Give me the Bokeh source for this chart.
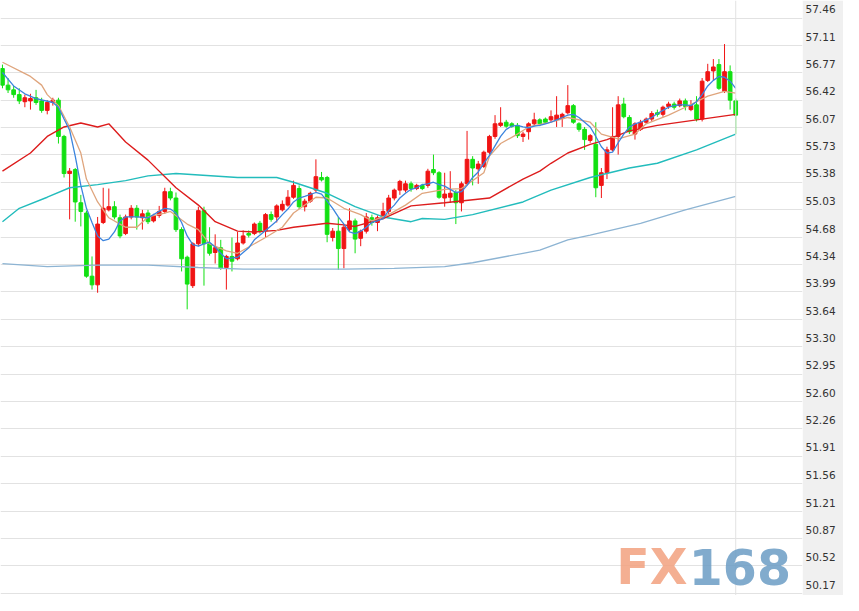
from bokeh.plotting import figure
from bokeh.models import (Range1d, LinearAxis, FixedTicker, NumeralTickFormatter,
                          Grid, Span, Label, ColumnDataSource)
from bokeh.embed import file_html
from bokeh.resources import INLINE

# ---------------- data ----------------
opens = [56.82, 56.61, 56.55, 56.49, 56.40, 56.41, 56.45, 56.41, 56.29, 56.39,
         56.42, 55.96, 55.49, 55.54, 55.12, 54.99, 54.19, 54.08, 54.87, 55.03,
         55.07, 54.93, 54.73, 54.94, 55.05, 54.93, 54.99, 54.89, 54.96, 55.01,
         55.26, 55.18, 54.78, 54.43, 54.07, 54.60, 55.02, 54.60, 54.49, 54.55,
         54.30, 54.44, 54.41, 54.61, 54.73, 54.73, 54.86, 54.77, 54.97, 54.94,
         55.03, 55.09, 55.19, 55.30, 55.07, 55.14, 55.28, 55.44, 55.44, 54.68,
         54.76, 54.54, 54.78, 54.89, 54.67, 54.76, 54.93, 54.87, 54.93, 55.01,
         55.18, 55.28, 55.28, 55.36, 55.30, 55.34, 55.34, 55.54, 55.50, 55.18,
         55.19, 55.25, 55.12, 55.36, 55.67, 55.55, 55.58, 55.76, 55.96, 56.10,
         56.14, 56.12, 56.10, 55.96, 56.02, 56.12, 56.17, 56.18, 56.17, 56.17,
         56.19, 56.26, 56.35, 56.12, 56.05, 55.91, 55.86, 55.34, 55.50, 55.79,
         55.96, 56.37, 56.20, 55.99, 56.05, 56.14, 56.18, 56.26, 56.24, 56.34,
         56.37, 56.35, 56.41, 56.30, 56.36, 56.18, 56.67, 56.79, 56.87, 56.53,
         56.78, 56.41]
highs = [56.87, 56.70, 56.60, 56.57, 56.49, 56.50, 56.55, 56.45, 56.42, 56.45,
         56.45, 55.98, 55.56, 55.56, 55.22, 55.02, 54.44, 54.94, 55.31, 55.30,
         55.14, 54.97, 54.97, 55.09, 55.09, 55.03, 55.03, 54.98, 55.08, 55.31,
         55.31, 55.25, 54.81, 54.45, 54.62, 55.07, 55.07, 54.81, 54.72, 54.65,
         54.46, 54.68, 54.75, 54.77, 54.77, 54.87, 54.89, 54.99, 55.01, 55.10,
         55.15, 55.28, 55.40, 55.34, 55.17, 55.26, 55.67, 55.51, 55.46, 54.80,
         54.94, 54.85, 55.05, 54.92, 54.78, 54.99, 54.97, 54.96, 55.12, 55.22,
         55.30, 55.41, 55.40, 55.39, 55.36, 55.36, 55.55, 55.73, 55.52, 55.50,
         55.52, 55.28, 55.39, 56.03, 55.71, 55.65, 55.78, 55.98, 56.23, 56.33,
         56.17, 56.14, 56.13, 56.02, 56.14, 56.26, 56.19, 56.20, 56.29, 56.47,
         56.26, 56.61, 56.37, 56.14, 56.08, 55.99, 56.14, 55.56, 55.83, 56.33,
         56.47, 56.45, 56.23, 56.14, 56.17, 56.20, 56.28, 56.30, 56.35, 56.40,
         56.40, 56.44, 56.44, 56.42, 56.47, 56.70, 56.88, 56.94, 56.94, 57.13,
         56.86, 56.44]
lows = [56.57, 56.51, 56.45, 56.37, 56.33, 56.30, 56.36, 56.26, 56.24, 56.35,
        55.87, 55.44, 54.91, 54.88, 54.82, 54.17, 54.02, 53.98, 54.85, 55.01,
        54.91, 54.67, 54.71, 54.91, 54.78, 54.78, 54.85, 54.87, 54.93, 54.98,
        55.15, 54.75, 54.25, 53.77, 54.04, 54.57, 54.07, 54.45, 54.35, 54.27,
        54.02, 54.25, 54.39, 54.59, 54.68, 54.71, 54.73, 54.68, 54.88, 54.87,
        55.01, 55.07, 55.17, 55.04, 55.01, 55.12, 55.25, 55.39, 54.62, 54.63,
        54.27, 54.29, 54.76, 54.48, 54.57, 54.73, 54.83, 54.76, 54.91, 54.97,
        55.15, 55.22, 55.25, 55.26, 55.28, 55.28, 55.31, 55.47, 55.17, 55.07,
        55.12, 54.85, 55.01, 55.34, 55.34, 55.36, 55.56, 55.73, 55.93, 56.08,
        56.07, 56.07, 55.94, 55.89, 55.92, 56.09, 56.09, 56.12, 56.14, 56.08,
        56.08, 56.24, 56.12, 56.02, 55.79, 55.88, 55.19, 55.18, 55.42, 55.77,
        55.73, 56.19, 55.99, 55.92, 56.03, 56.12, 56.15, 56.21, 56.21, 56.31,
        56.30, 56.33, 56.29, 56.28, 56.15, 56.15, 56.65, 56.67, 56.55, 56.51,
        56.30, 55.99]
closes = [56.61, 56.55, 56.49, 56.41, 56.45, 56.44, 56.39, 56.29, 56.39, 56.42,
          55.96, 55.49, 55.52, 55.13, 55.01, 54.19, 54.08, 54.85, 55.05, 55.07,
          54.94, 54.70, 54.94, 55.05, 54.94, 54.98, 54.88, 54.96, 55.01, 55.26,
          55.18, 54.78, 54.41, 54.09, 54.60, 55.02, 54.60, 54.48, 54.55, 54.29,
          54.44, 54.38, 54.61, 54.70, 54.71, 54.85, 54.76, 54.97, 54.91, 55.08,
          55.10, 55.19, 55.34, 55.07, 55.14, 55.24, 55.45, 55.41, 54.72, 54.76,
          54.54, 54.81, 54.89, 54.66, 54.76, 54.94, 54.87, 54.93, 55.01, 55.18,
          55.28, 55.39, 55.36, 55.30, 55.34, 55.30, 55.52, 55.50, 55.19, 55.23,
          55.24, 55.12, 55.36, 55.67, 55.56, 55.61, 55.76, 55.96, 56.12, 56.13,
          56.09, 56.09, 55.97, 55.99, 56.12, 56.17, 56.12, 56.14, 56.21, 56.23,
          56.24, 56.35, 56.14, 56.05, 55.92, 55.97, 55.31, 55.50, 55.79, 55.96,
          56.36, 56.21, 56.02, 56.12, 56.14, 56.18, 56.25, 56.24, 56.33, 56.37,
          56.33, 56.41, 56.34, 56.35, 56.18, 56.66, 56.78, 56.84, 56.57, 56.78,
          56.42, 56.23]

# moving averages (candle index, price)
ma5_x = [0, 2, 4, 6, 9, 10, 11, 12, 13, 14, 15, 16, 17, 18, 19, 20, 21, 22, 24, 26,
         28, 29, 30, 31, 32, 33, 34, 35, 36, 37, 38, 39, 40, 42, 43, 44, 45, 47, 49, 50,
         51, 52, 53, 54, 56, 57, 58, 59, 60, 61, 62, 63, 64, 65, 66, 67, 68, 69, 70, 71,
         72, 73, 74, 75, 76, 77, 78, 79, 80, 81, 82, 83, 84, 85, 86, 87, 88, 89, 90, 91,
         92, 93, 94, 95, 96, 97, 98, 99, 100, 101, 102, 103, 104, 105, 106, 107, 108, 109,
         110, 111, 112, 113, 114, 115, 116, 117, 118, 119, 120, 121, 122, 123, 124, 125,
         126, 127, 128, 129, 130, 131]
ma5_y = [56.77, 56.60, 56.50, 56.44, 56.39, 56.33, 56.18, 56.04, 55.71, 55.34,
         55.05, 54.87, 54.70, 54.64, 54.66, 54.75, 54.89, 54.94, 54.94, 54.93,
         55.01, 55.05, 55.04, 54.99, 54.87, 54.70, 54.59, 54.57, 54.60, 54.62,
         54.56, 54.48, 54.41, 54.43, 54.49, 54.55, 54.65, 54.77, 54.89, 54.97,
         55.04, 55.13, 55.18, 55.20, 55.25, 55.23, 55.14, 55.05, 54.94, 54.85,
         54.75, 54.73, 54.76, 54.81, 54.87, 54.89, 54.92, 55.02, 55.09, 55.18,
         55.24, 55.29, 55.31, 55.35, 55.36, 55.38, 55.35, 55.33, 55.29, 55.25,
         55.26, 55.34, 55.44, 55.51, 55.62, 55.72, 55.84, 55.96, 56.05, 56.09,
         56.10, 56.08, 56.07, 56.09, 56.10, 56.12, 56.14, 56.17, 56.20, 56.23,
         56.24, 56.20, 56.14, 56.08, 55.96, 55.83, 55.75, 55.76, 55.88, 55.99,
         56.08, 56.12, 56.14, 56.17, 56.20, 56.25, 56.29, 56.33, 56.35, 56.36,
         56.36, 56.35, 56.40, 56.49, 56.60, 56.67, 56.72, 56.71, 56.66, 56.57]

ma10_x = [0, 5, 7, 8, 10, 12, 14, 15, 17, 19, 21, 22, 24, 26, 29, 30, 33, 35, 37, 40,
          42, 44, 47, 50, 52, 56, 58, 61, 64, 66, 69, 72, 75, 79, 82, 86, 87, 89, 92, 94,
          98, 101, 105, 107, 110, 113, 115, 119, 122, 126, 129, 131]
ma10_y = [56.90, 56.72, 56.61, 56.49, 56.35, 56.08, 55.75, 55.42, 55.13, 54.93,
          54.85, 54.81, 54.81, 54.94, 54.99, 55.01, 54.85, 54.78, 54.60, 54.51,
          54.48, 54.56, 54.68, 54.81, 54.99, 55.19, 55.18, 55.05, 54.97, 54.89,
          54.97, 55.09, 55.24, 55.29, 55.30, 55.50, 55.71, 55.87, 55.99, 56.08,
          56.14, 56.20, 56.14, 55.99, 55.93, 55.99, 56.12, 56.23, 56.33, 56.47,
          56.53, 56.51]

ma20_x = [0, 5, 8, 11, 14, 17, 19, 22, 26, 31, 35, 38, 42, 45, 49, 52, 58, 61, 63, 68,
          73, 79, 87, 93, 96, 98, 101, 105, 108, 112, 117, 124, 131]
ma20_y = [55.52, 55.75, 55.96, 56.08, 56.13, 56.08, 56.12, 55.89, 55.66, 55.31,
          55.09, 54.88, 54.76, 54.75, 54.77, 54.81, 54.86, 54.84, 54.82, 54.92,
          55.08, 55.12, 55.18, 55.42, 55.52, 55.62, 55.75, 55.86, 55.92, 56.03,
          56.10, 56.17, 56.24]

ma60_x = [0, 3, 8, 12, 17, 22, 26, 31, 42, 49, 52, 58, 63, 68, 73, 75, 79, 84, 93, 98,
          105, 112, 117, 124, 131]
ma60_y = [54.88, 55.05, 55.19, 55.31, 55.35, 55.40, 55.46, 55.49, 55.44, 55.44,
          55.38, 55.24, 55.07, 54.94, 54.88, 54.92, 54.91, 54.97, 55.13, 55.28,
          55.44, 55.56, 55.62, 55.79, 55.99]

ma120_x = [0, 8, 17, 26, 35, 43, 52, 61, 70, 79, 84, 93, 96, 101, 105, 114, 122, 131]
ma120_y = [54.35, 54.31, 54.33, 54.33, 54.30, 54.28, 54.28, 54.28, 54.29, 54.31,
           54.36, 54.48, 54.52, 54.65, 54.71, 54.86, 55.03, 55.20]

y_ticks = [57.46, 57.11, 56.77, 56.42, 56.07, 55.73, 55.38, 55.03, 54.68, 54.34, 53.99,
           53.64, 53.30, 52.95, 52.60, 52.26, 51.91, 51.56, 51.21, 50.87, 50.52, 50.17]

# ---------------- build the chart ----------------
N = len(opens)
idx = list(range(N))
UP, DOWN = "#f01414", "#12e012"
colors = [UP if c > o else DOWN for o, c in zip(opens, closes)]
src = ColumnDataSource(dict(
    x=idx, high=highs, low=lows,
    top=[max(o, c) for o, c in zip(opens, closes)],
    bottom=[min(o, c) for o, c in zip(opens, closes)],
    color=colors))

p = figure(width=843, height=595,
           x_range=Range1d(-0.351, 142.93), y_range=Range1d(50.145, 57.682),
           x_axis_location=None, y_axis_location=None,
           toolbar_location=None, output_backend="svg",
           min_border_left=0, min_border_top=0, min_border_bottom=0,
           min_border_right=41, border_fill_color="#f0f0f0",
           background_fill_color="white", outline_line_color=None)
p.xgrid.visible = False
p.ygrid.visible = False

p.add_layout(Grid(dimension=1, ticker=FixedTicker(ticks=y_ticks),
                  grid_line_color="#e2e2e2", grid_line_width=1))
p.add_layout(Span(location=idx[-1], dimension="height",
                  line_color="#e2e2e2", line_width=1))

# right-hand price labels, drawn just above their grid lines
p.extra_y_ranges = {"lab": Range1d(50.034, 57.571)}
ax = LinearAxis(y_range_name="lab", ticker=FixedTicker(ticks=y_ticks),
                formatter=NumeralTickFormatter(format="0.00"),
                axis_line_color=None, major_tick_line_color=None,
                minor_tick_line_color=None, major_tick_out=0, major_tick_in=0,
                major_label_standoff=3,
                major_label_text_font="DejaVu Sans",
                major_label_text_font_size="10.5px",
                major_label_text_color="#333333")
p.add_layout(ax, "right")

# watermark
p.add_layout(Label(x=122.4, y=50.50, text="FX", text_align="right",
                   text_baseline="alphabetic", text_font="DejaVu Sans",
                   text_font_style="bold", text_font_size="49px",
                   text_color="#f2a17f", text_alpha=0.85))
p.add_layout(Label(x=122.6, y=50.50, text="168", text_align="left",
                   text_baseline="alphabetic", text_font="DejaVu Sans",
                   text_font_style="bold", text_font_size="49px",
                   text_color="#6b9cc4", text_alpha=0.85))

# candles
p.segment(x0="x", y0="high", x1="x", y1="low", source=src,
          line_color="color", line_width=1)
p.vbar(x="x", width=0.66, top="top", bottom="bottom", source=src,
       fill_color="color", line_color="color", line_width=1)

# moving averages
p.line(ma120_x, ma120_y, line_color="#8db4d3", line_width=1.3)
p.line(ma60_x, ma60_y, line_color="#22bcbc", line_width=1.4)
p.line(ma20_x, ma20_y, line_color="#dd1c1c", line_width=1.4)
p.line(ma10_x, ma10_y, line_color="#dfa57d", line_width=1.3)
p.line(ma5_x, ma5_y, line_color="#3b84de", line_width=1.3)

open("out.html", "w").write(file_html(p, INLINE))
